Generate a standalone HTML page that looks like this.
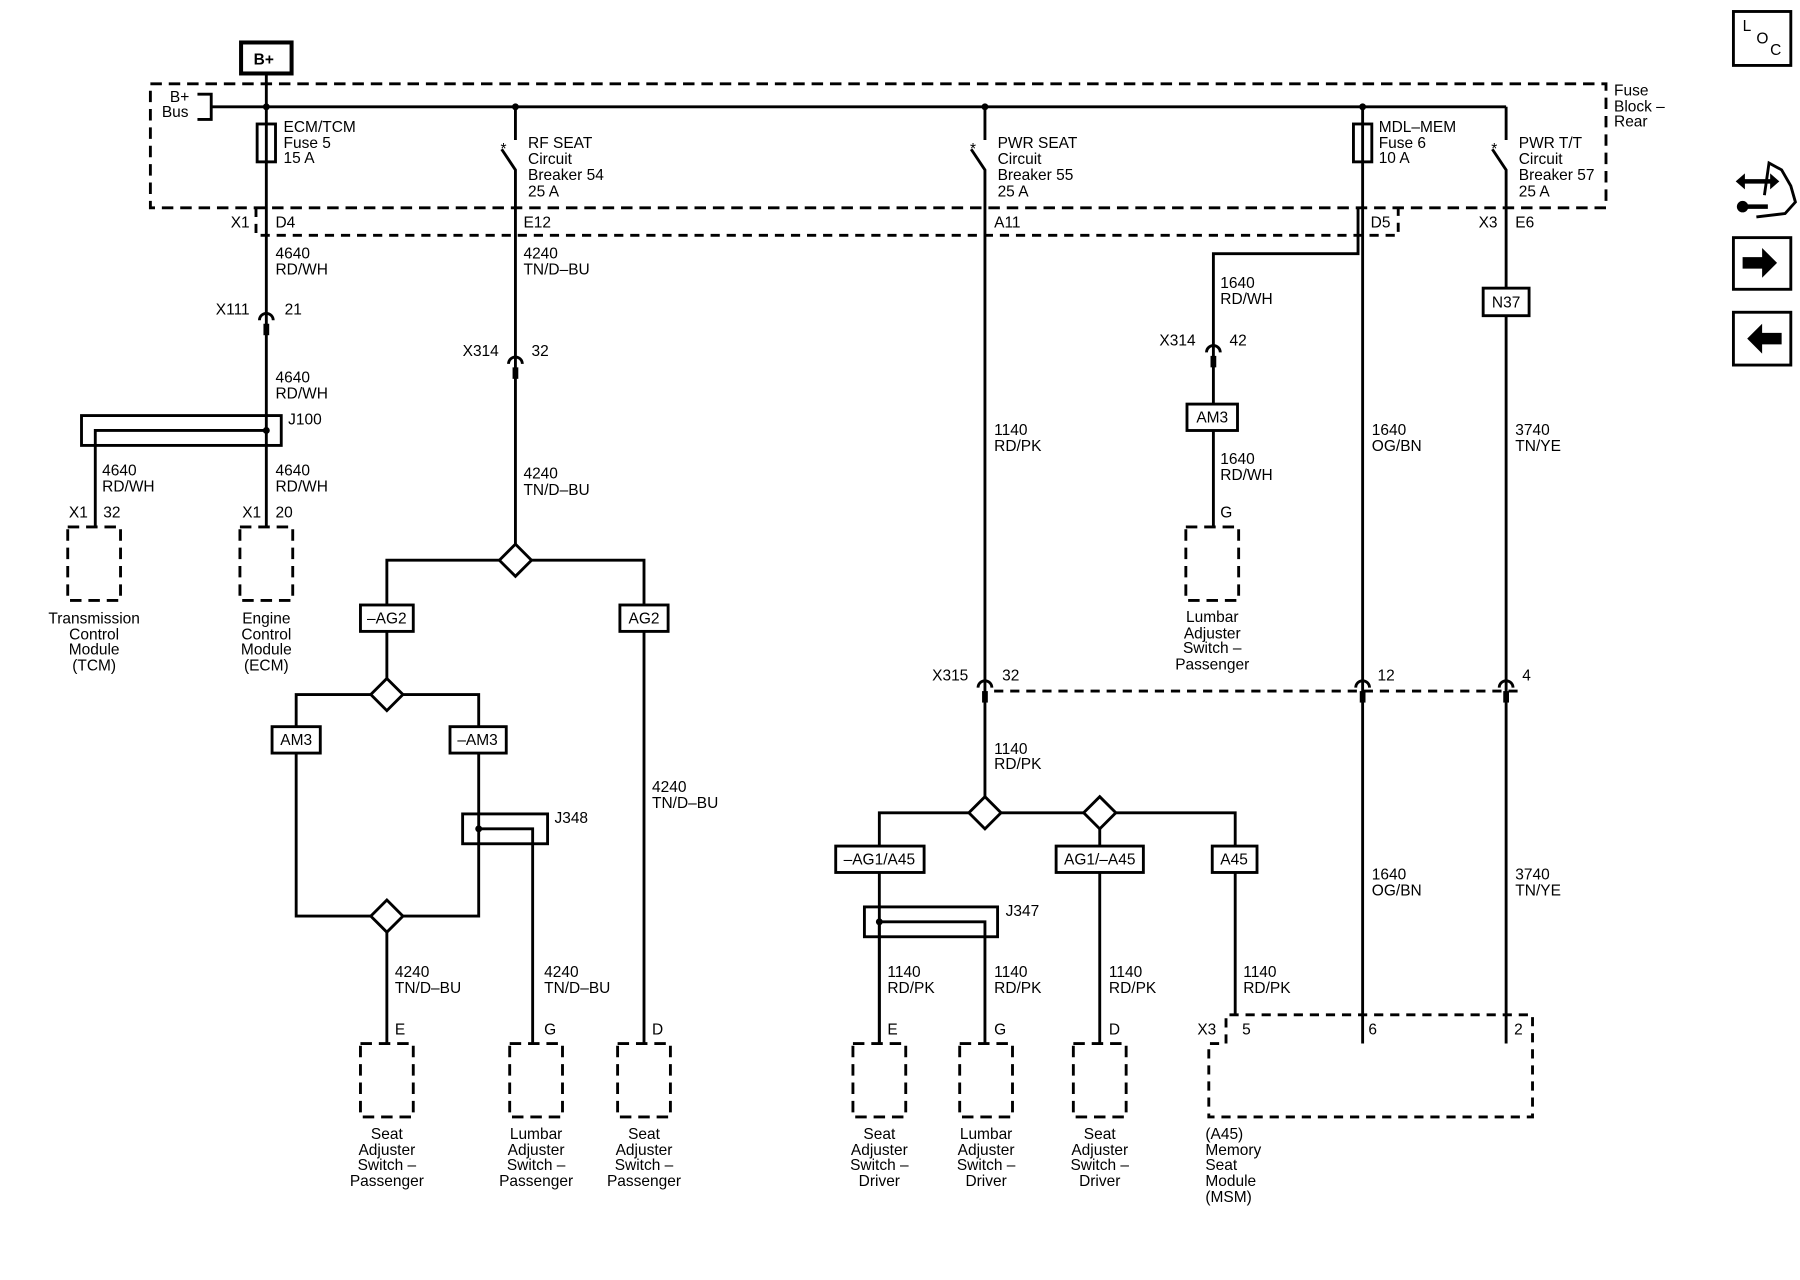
<!DOCTYPE html>
<html><head><style>html,body{margin:0;padding:0;background:#fff}svg{display:block}text{font-family:"Liberation Sans",sans-serif;font-size:13.5px;fill:#000}</style></head><body>
<svg width="1800" height="1280" viewBox="0 0 1568 1115" preserveAspectRatio="none" xmlns="http://www.w3.org/2000/svg">
<defs>
<g id="con"><path d="M-6,3 A6,6 0 0 1 6,3" fill="none" stroke="#000" stroke-width="2.5"/><rect x="-2.5" y="6" width="5" height="10" fill="#000"/></g>
</defs>
<g fill="none" stroke="#000" stroke-width="2.5">
<rect x="210" y="37" width="44" height="27" stroke-width="3.5"/>
<path d="M232,64V458"/>
<rect x="131" y="73" width="1268" height="108" stroke-dasharray="10,6"/>
<path d="M172,82H184V104H172"/>
<path d="M184,93H1312"/>
<rect x="224" y="108" width="16" height="33"/>
<path d="M223,181V205H1218V181" stroke-dasharray="8,6"/>
<path d="M449,93V122M437,130L449,148V488"/>
<path d="M858,93V122M846,130L858,148V708"/>
<path d="M1312,93V122M1300,130L1312,148V909"/>
<rect x="1179" y="108" width="16" height="33"/>
<path d="M1187,93V909"/>
<path d="M1183,181V221H1057V458"/>
<rect x="71" y="362" width="174" height="26"/>
<path d="M232,375H83V458"/>
<rect x="59" y="459" width="46" height="64" stroke-dasharray="10,6"/>
<rect x="209" y="459" width="46" height="64" stroke-dasharray="10,6"/>
<path d="M337,605V488H561V909"/>
<path d="M258,605H417V798H258Z"/>
<path d="M337,798V909"/>
<rect x="403" y="709" width="74" height="26"/>
<path d="M417,722H464V909"/>
<rect x="314" y="909" width="46" height="64" stroke-dasharray="10,6"/>
<rect x="444" y="909" width="46" height="64" stroke-dasharray="10,6"/>
<rect x="538" y="909" width="46" height="64" stroke-dasharray="10,6"/>
<path d="M866,602H1325" stroke-dasharray="8,6"/>
<path d="M766,909V708H1076V884"/>
<path d="M958,708V909"/>
<rect x="753" y="790" width="116" height="26"/>
<path d="M766,803V909M766,803H858V909"/>
<rect x="743" y="909" width="46" height="64" stroke-dasharray="10,6"/>
<rect x="836" y="909" width="46" height="64" stroke-dasharray="10,6"/>
<rect x="935" y="909" width="46" height="64" stroke-dasharray="10,6"/>
<path d="M1068,909V884H1335V973H1053V909H1068" stroke-dasharray="8,6"/>
<rect x="1033" y="459" width="46" height="64" stroke-dasharray="10,6"/>
<rect x="1510" y="10" width="50" height="47"/>
<rect x="1510" y="207" width="50" height="45"/>
<rect x="1510" y="272" width="50" height="46"/>
<path d="M1537,170L1541,142L1552,148L1560,162L1564,176L1555,186L1530,189"/>
<path d="M1516,158H1544M1518,180H1540" stroke-width="4"/>
</g>
<g fill="#fff" stroke="#000" stroke-width="2.5">
<path d="M449,474L463,488L449,502L435,488Z"/>
<path d="M337,591L351,605L337,619L323,605Z"/>
<path d="M337,784L351,798L337,812L323,798Z"/>
<path d="M858,694L872,708L858,722L844,708Z"/>
<path d="M958,694L972,708L958,722L944,708Z"/>
<rect x="314" y="527" width="46" height="23"/>
<rect x="540" y="527" width="42" height="23"/>
<rect x="237" y="633" width="42" height="23"/>
<rect x="392" y="633" width="49" height="23"/>
<rect x="728" y="737" width="77" height="23"/>
<rect x="920" y="737" width="76" height="23"/>
<rect x="1056" y="737" width="39" height="23"/>
<rect x="1034" y="352" width="44" height="23"/>
<rect x="1292" y="251" width="40" height="24"/>
</g>
<use href="#con" x="232" y="276"/><use href="#con" x="449" y="314"/><use href="#con" x="1057" y="304"/>
<use href="#con" x="858" y="596"/><use href="#con" x="1187" y="596"/><use href="#con" x="1312" y="596"/>
<g fill="#000">
<circle cx="232" cy="93" r="3"/><circle cx="449" cy="93" r="3"/><circle cx="858" cy="93" r="3"/><circle cx="1187" cy="93" r="3"/>
<circle cx="232" cy="375" r="3"/><circle cx="417" cy="722" r="3"/><circle cx="766" cy="803" r="3"/>
<path d="M1518,224H1535V216L1548,229L1535,242V234H1518Z"/>
<path d="M1552,290H1535V282L1522,295L1535,308V300H1552Z"/>
<path d="M1512,158L1520,151V165ZM1550,158L1542,151V165Z"/>
<circle cx="1518" cy="180" r="5"/>
</g>
<g>
<text x="221" y="56" font-weight="bold">B+</text>
<text x="148" y="89">B+</text><text x="141" y="102">Bus</text>
<text x="247" y="115">ECM/TCM</text><text x="247" y="129">Fuse 5</text><text x="247" y="142">15 A</text>
<text x="460" y="129">RF SEAT</text><text x="460" y="143">Circuit</text><text x="460" y="157">Breaker 54</text><text x="460" y="171">25 A</text>
<text x="869" y="129">PWR SEAT</text><text x="869" y="143">Circuit</text><text x="869" y="157">Breaker 55</text><text x="869" y="171">25 A</text>
<text x="1201" y="115">MDL–MEM</text><text x="1201" y="129">Fuse 6</text><text x="1201" y="142">10 A</text>
<text x="1323" y="129">PWR T/T</text><text x="1323" y="143">Circuit</text><text x="1323" y="157">Breaker 57</text><text x="1323" y="171">25 A</text>
<text x="1406" y="83">Fuse</text><text x="1406" y="97">Block –</text><text x="1406" y="110">Rear</text>
<text x="436" y="134" font-size="12">*</text><text x="845" y="134" font-size="12">*</text><text x="1299" y="134" font-size="12">*</text>
<text x="201" y="198">X1</text><text x="240" y="198">D4</text><text x="456" y="198">E12</text><text x="866" y="198">A11</text><text x="1194" y="198">D5</text><text x="1288" y="198">X3</text><text x="1320" y="198">E6</text>
<text x="240" y="225">4640</text><text x="240" y="239">RD/WH</text>
<text x="188" y="274">X111</text><text x="248" y="274">21</text>
<text x="240" y="333">4640</text><text x="240" y="347">RD/WH</text>
<text x="251" y="370">J100</text>
<text x="89" y="414">4640</text><text x="89" y="428">RD/WH</text>
<text x="240" y="414">4640</text><text x="240" y="428">RD/WH</text>
<text x="60" y="451">X1</text><text x="90" y="451">32</text><text x="211" y="451">X1</text><text x="240" y="451">20</text>
<g text-anchor="middle">
<text x="82" y="543">Transmission</text><text x="82" y="557">Control</text><text x="82" y="570">Module</text><text x="82" y="584">(TCM)</text>
<text x="232" y="543">Engine</text><text x="232" y="557">Control</text><text x="232" y="570">Module</text><text x="232" y="584">(ECM)</text>
<text x="337" y="543">–AG2</text><text x="561" y="543">AG2</text><text x="258" y="649">AM3</text><text x="416" y="649">–AM3</text>
<text x="766" y="753">–AG1/A45</text><text x="958" y="753">AG1/–A45</text><text x="1075" y="753">A45</text>
<text x="1056" y="368">AM3</text><text x="1312" y="268">N37</text>
<text x="1056" y="542">Lumbar</text><text x="1056" y="556">Adjuster</text><text x="1056" y="569">Switch –</text><text x="1056" y="583">Passenger</text>
<text x="337" y="992">Seat</text><text x="337" y="1006">Adjuster</text><text x="337" y="1019">Switch –</text><text x="337" y="1033">Passenger</text>
<text x="467" y="992">Lumbar</text><text x="467" y="1006">Adjuster</text><text x="467" y="1019">Switch –</text><text x="467" y="1033">Passenger</text>
<text x="561" y="992">Seat</text><text x="561" y="1006">Adjuster</text><text x="561" y="1019">Switch –</text><text x="561" y="1033">Passenger</text>
<text x="766" y="992">Seat</text><text x="766" y="1006">Adjuster</text><text x="766" y="1019">Switch –</text><text x="766" y="1033">Driver</text>
<text x="859" y="992">Lumbar</text><text x="859" y="1006">Adjuster</text><text x="859" y="1019">Switch –</text><text x="859" y="1033">Driver</text>
<text x="958" y="992">Seat</text><text x="958" y="1006">Adjuster</text><text x="958" y="1019">Switch –</text><text x="958" y="1033">Driver</text>
</g>
<text x="456" y="225">4240</text><text x="456" y="239">TN/D–BU</text>
<text x="403" y="310">X314</text><text x="463" y="310">32</text>
<text x="456" y="417">4240</text><text x="456" y="431">TN/D–BU</text>
<text x="483" y="717">J348</text>
<text x="344" y="851">4240</text><text x="344" y="865">TN/D–BU</text>
<text x="474" y="851">4240</text><text x="474" y="865">TN/D–BU</text>
<text x="568" y="690">4240</text><text x="568" y="704">TN/D–BU</text>
<text x="344" y="901">E</text><text x="474" y="901">G</text><text x="568" y="901">D</text>
<text x="866" y="379">1140</text><text x="866" y="393">RD/PK</text>
<text x="812" y="593">X315</text><text x="873" y="593">32</text><text x="1200" y="593">12</text><text x="1326" y="593">4</text>
<text x="866" y="657">1140</text><text x="866" y="670">RD/PK</text>
<text x="876" y="798">J347</text>
<text x="773" y="851">1140</text><text x="773" y="865">RD/PK</text>
<text x="866" y="851">1140</text><text x="866" y="865">RD/PK</text>
<text x="966" y="851">1140</text><text x="966" y="865">RD/PK</text>
<text x="1083" y="851">1140</text><text x="1083" y="865">RD/PK</text>
<text x="773" y="901">E</text><text x="866" y="901">G</text><text x="966" y="901">D</text>
<text x="1043" y="901">X3</text><text x="1082" y="901">5</text><text x="1192" y="901">6</text><text x="1319" y="901">2</text>
<text x="1050" y="992">(A45)</text><text x="1050" y="1006">Memory</text><text x="1050" y="1019">Seat</text><text x="1050" y="1033">Module</text><text x="1050" y="1047">(MSM)</text>
<text x="1063" y="251">1640</text><text x="1063" y="265">RD/WH</text>
<text x="1010" y="301">X314</text><text x="1071" y="301">42</text>
<text x="1063" y="404">1640</text><text x="1063" y="418">RD/WH</text><text x="1063" y="451">G</text>
<text x="1195" y="379">1640</text><text x="1195" y="393">OG/BN</text><text x="1195" y="766">1640</text><text x="1195" y="780">OG/BN</text>
<text x="1320" y="379">3740</text><text x="1320" y="393">TN/YE</text><text x="1320" y="766">3740</text><text x="1320" y="780">TN/YE</text>
<text x="1518" y="27" font-size="12">L</text><text x="1530" y="38" font-size="12">O</text><text x="1542" y="48" font-size="12">C</text>
</g>
</svg>
</body></html>
